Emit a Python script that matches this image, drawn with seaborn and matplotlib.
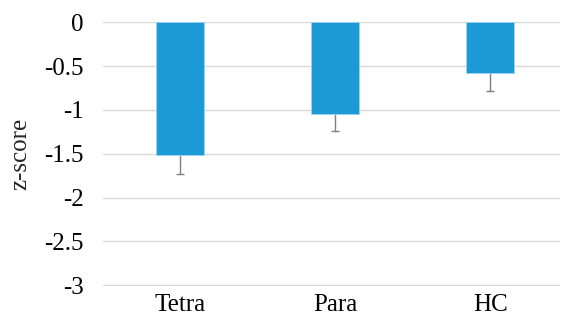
import numpy as np
import matplotlib.pyplot as plt
import seaborn as sns
import pandas as pd

# values
groups = ["Tetra", "Para", "HC"]
zscores = [-1.51, -1.045, -0.583]
errors = [0.22, 0.195, 0.20]
yticks = [0, -0.5, -1, -1.5, -2, -2.5, -3]

sns.set_style("white")
plt.rcParams['font.family'] = ['Liberation Serif', 'DejaVu Serif']

df = pd.DataFrame({"group": groups, "z": zscores})

fig = plt.figure(figsize=(5.66, 3.23), dpi=100)
ax = fig.add_axes([0.182, 0.1146, 0.807, 0.8173])

sns.barplot(data=df, x="group", y="z", color="#1b9ad6", saturation=1,
            width=0.31, errorbar=None, ax=ax, zorder=3)
for p in ax.patches:
    p.set_edgecolor("#9fd3f0")
    p.set_linewidth(0.6)

# one-sided (downward) error bars
eb = ax.errorbar(np.arange(len(groups)), zscores,
                 yerr=[errors, np.zeros(len(errors))], fmt="none",
                 ecolor="#7f7f7f", elinewidth=1.0, capsize=3, capthick=1.0,
                 zorder=2)
# hide the cap sitting on the bar end
if len(eb[1]) > 1:
    eb[1][1].set_visible(False)

# tiny margin so the 0 and -3 gridlines are not clipped
ax.set_ylim(-3.008, 0.004)
ax.set_xlim(-0.5, 2.45)
ax.set_yticks(yticks)
ax.set_yticklabels([f"{t:g}" for t in yticks])
ax.yaxis.grid(True, color="#d9d9d9", linewidth=1.0, zorder=0)
ax.set_axisbelow(True)
for s in ax.spines.values():
    s.set_visible(False)
ax.tick_params(axis="both", length=0, labelsize=18, colors="black")
ax.tick_params(axis="y", pad=14)
ax.tick_params(axis="x", pad=6)
ax.set_xlabel("")
ax.set_ylabel("z-score", fontsize=18, labelpad=9)

fig.savefig("out.png", dpi=100)
